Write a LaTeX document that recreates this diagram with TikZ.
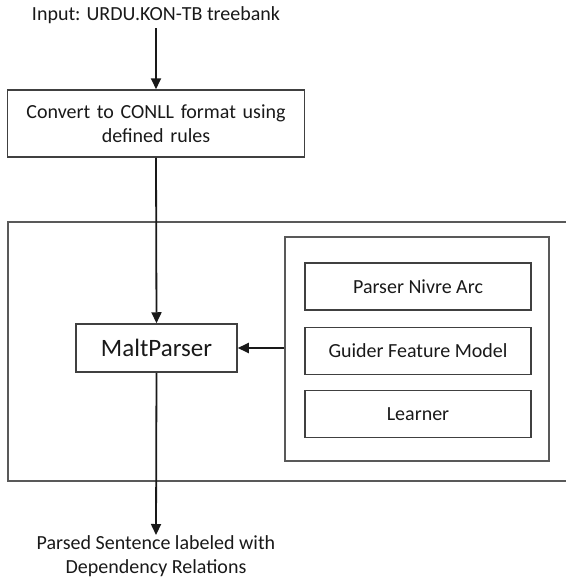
\documentclass[tikz,border=0pt]{standalone}
\usepackage{fontspec}
\setmainfont{Carlito}
\usetikzlibrary{arrows.meta}
\begin{document}
\begin{tikzpicture}[x=1pt,y=-1pt,
  txt/.style={text=black!90, font=\fontsize{20}{25}\selectfont},
  box/.style={draw=black!75, line width=1.5pt, txt, inner sep=0pt, align=center},
  frame/.style={draw=black!65, line width=1.6pt},
  arr/.style={draw=black!90, line width=1.8pt, -{Triangle[width=10pt,length=11pt]}}]
\useasboundingbox (0,0) rectangle (565,586);
% outer frame (open to the right edge)
\draw[frame] (566,222) -- (8,222) -- (8,481) -- (566,481);
% nodes
\node[txt, inner sep=0pt, minimum height=26pt] (input) at (156,15) {Input: URDU.KON-TB treebank};
\node[box, minimum width=297pt, minimum height=67pt, text width=280pt] (conv) at (156,123.5) {Convert to CONLL format using\\[-1pt]defined rules};
\node[box, minimum width=161pt, minimum height=48pt, font=\fontsize{25}{30}\selectfont] (malt) at (156.5,348) {MaltParser};
\node[frame, minimum width=264pt, minimum height=224pt, inner sep=0pt] (panel) at (417,349) {};
\node[box, minimum width=226pt, minimum height=47pt] (nivre) at (418,286.5) {Parser Nivre Arc};
\node[box, minimum width=226pt, minimum height=47pt] (guider) at (418,351) {Guider Feature Model};
\node[box, minimum width=226pt, minimum height=47pt] (learner) at (418,414) {Learner};
\node[txt, inner sep=0pt, align=center, anchor=north] (out) at (156,535) {Parsed Sentence labeled with\\[-1pt]Dependency Relations};
% connectors
\draw[arr] (input.south) -- (conv.north);
\draw[arr] (conv.south) -- (malt.north);
\draw[arr] (panel.west |- malt.east) -- (malt.east);
\draw[arr] (malt.south) -- (out.north);
\end{tikzpicture}
\end{document}
